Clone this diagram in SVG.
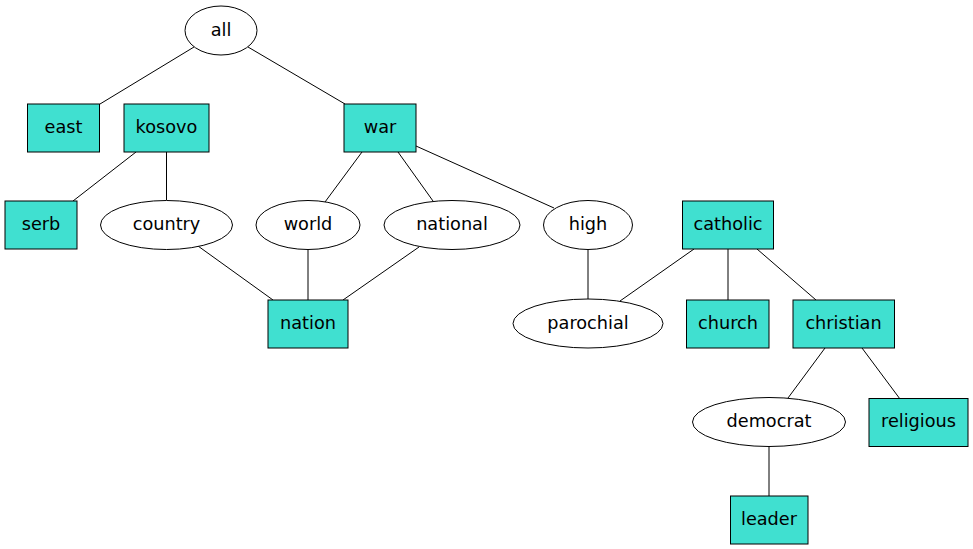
<svg xmlns="http://www.w3.org/2000/svg" width="973" height="549" viewBox="0 0 973 549">
<style>
.b{fill:#40e0d0;stroke:#000;stroke-width:1}
.e{fill:#fff;stroke:#000;stroke-width:1}
text{font-family:"DejaVu Sans",sans-serif;font-size:17.7px;text-anchor:middle;fill:#000}
#edges line{stroke:#000;stroke-width:1}
</style>
<rect width="973" height="549" fill="#fff"/>
<g id="edges">
<line x1="194" y1="47" x2="100" y2="104"/>
<line x1="248" y1="47" x2="345" y2="104"/>
<line x1="136" y1="152" x2="73" y2="201"/>
<line x1="166.5" y1="152" x2="166.5" y2="200"/>
<line x1="362" y1="152" x2="325" y2="202"/>
<line x1="398" y1="152" x2="433" y2="201"/>
<line x1="416" y1="146" x2="554" y2="208"/>
<line x1="198" y1="246" x2="273" y2="300"/>
<line x1="308" y1="250" x2="308" y2="300"/>
<line x1="419" y1="247" x2="343" y2="300"/>
<line x1="588" y1="250" x2="588" y2="299"/>
<line x1="694" y1="249" x2="620" y2="301"/>
<line x1="728" y1="249" x2="728" y2="300"/>
<line x1="757" y1="249" x2="816" y2="300"/>
<line x1="825" y1="348" x2="788" y2="398"/>
<line x1="862" y1="348" x2="900" y2="399"/>
<line x1="769" y1="447" x2="769" y2="496"/>
</g>
<g id="all"><ellipse class="e" cx="221" cy="30.5" rx="36" ry="24.5"/><text x="221" y="35.5">all</text></g>
<g id="east"><rect class="b" x="27.5" y="104" width="72" height="48"/><text x="63.5" y="133">east</text></g>
<g id="kosovo"><rect class="b" x="124" y="104" width="85" height="48"/><text x="166.5" y="133">kosovo</text></g>
<g id="war"><rect class="b" x="344" y="104" width="72" height="48"/><text x="380" y="133">war</text></g>
<g id="serb"><rect class="b" x="5" y="201" width="72" height="48"/><text x="41" y="230">serb</text></g>
<g id="country"><ellipse class="e" cx="166.5" cy="225" rx="66" ry="24.5"/><text x="166.5" y="229.5">country</text></g>
<g id="world"><ellipse class="e" cx="308" cy="225" rx="52" ry="24.5"/><text x="308" y="229.5">world</text></g>
<g id="national"><ellipse class="e" cx="452" cy="225" rx="68" ry="24.5"/><text x="452" y="229.5">national</text></g>
<g id="high"><ellipse class="e" cx="588" cy="225" rx="44.5" ry="24.5"/><text x="588" y="229.5">high</text></g>
<g id="catholic"><rect class="b" x="682.5" y="201" width="91" height="48"/><text x="728" y="229.5">catholic</text></g>
<g id="nation"><rect class="b" x="268" y="300" width="80" height="48"/><text x="308" y="328.5">nation</text></g>
<g id="parochial"><ellipse class="e" cx="588" cy="323.5" rx="75" ry="24.5"/><text x="588" y="328.5">parochial</text></g>
<g id="church"><rect class="b" x="686.5" y="300" width="82.5" height="48"/><text x="728" y="328.5">church</text></g>
<g id="christian"><rect class="b" x="793" y="300" width="101.5" height="48"/><text x="843.5" y="328.5">christian</text></g>
<g id="democrat"><ellipse class="e" cx="769" cy="422" rx="76.5" ry="24.5"/><text x="769" y="427">democrat</text></g>
<g id="religious"><rect class="b" x="869" y="398.5" width="99" height="48"/><text x="918.5" y="427">religious</text></g>
<g id="leader"><rect class="b" x="730.5" y="496" width="77.5" height="48"/><text x="769" y="525">leader</text></g>
</svg>
